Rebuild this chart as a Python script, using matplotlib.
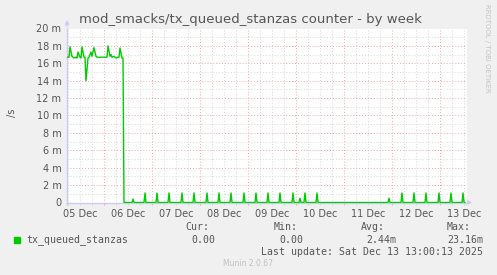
import matplotlib
matplotlib.use("Agg")
import matplotlib.pyplot as plt
from matplotlib.patches import Rectangle

# hours since 05 Dec 00:00, values in milli-stanzas/s
busy_hours = [5.5, 6.5, 7, 8, 9, 10, 10.5, 11, 12, 12.5, 13, 14, 14.5, 15, 16, 16.5,
              17.5, 18, 19, 20, 20.5, 22, 24, 25.5, 26, 27, 27.5, 28, 29, 30, 31,
              31.5, 32, 33, 33.5, 34]
busy_values = [16.7, 16.7, 17.9, 16.8, 16.6, 16.7, 16.6, 17.3, 16.7, 16.6, 17.9, 16.7,
               16.7, 14.0, 16.6, 16.7, 17.3, 16.8, 17.8, 16.8, 16.7, 16.7, 16.7, 16.7,
               18.0, 16.8, 17.0, 16.7, 16.8, 16.6, 16.7, 16.7, 17.75, 16.6, 16.6, 0.0]

spike_hours = [38.5, 44.5, 50.5, 56.5, 63, 69, 75.5, 81.5, 87.5, 94, 100, 106, 112,
               118.5, 122, 124.5, 130.5, 166.5, 173, 179, 185, 191.5, 197.5, 203.5]
spike_values = [0.4, 1.1, 1.1, 1.1, 1.1, 1.1, 1.1, 1.1, 1.1, 1.1, 1.1, 1.1, 1.1,
                1.1, 0.5, 1.1, 1.1, 0.5, 1.1, 1.1, 1.1, 1.1, 1.1, 1.1]
end_hour = 204.5

day_labels = ["05 Dec", "06 Dec", "07 Dec", "08 Dec", "09 Dec",
              "10 Dec", "11 Dec", "12 Dec", "13 Dec"]
y_ticks = [0, 2, 4, 6, 8, 10, 12, 14, 16, 18, 20]

title = "mod_smacks/tx_queued_stanzas counter - by week"
series_name = "tx_queued_stanzas"
cur, vmin, avg, vmax = "0.00", "0.00", "2.44m", "23.16m"
last_update = "Last update: Sat Dec 13 13:00:13 2025"

# build line: busy plateau, then zero with short spikes
xs = list(busy_hours)
ys = list(busy_values)
for h, v in zip(spike_hours, spike_values):
    xs += [h - 0.5, h, h + 0.5]
    ys += [0, v, 0]
xs.append(end_hour)
ys.append(0)

W, H = 497, 275
fig = plt.figure(figsize=(W / 100, H / 100), dpi=100, facecolor="#f0f0f0")
ax = fig.add_axes([67 / W, 1 - 202.5 / H, 400 / W, 174 / H])
ax.set_facecolor("white")

x0, x1 = 5.5, 205.5
ax.set_xlim(x0, x1)
ax.set_ylim(0, 20)

red = "#f0a8a8"
grey = "#d8d8d8"

# grid + small tick marks under the axis
h = 6
while h < x1:
    if h > x0:
        c = red if h % 24 == 0 else grey
        ax.axvline(h, color=c, lw=0.7, ls=(0, (1, 2)), zorder=1)
        ax.vlines(h, -0.3, 0, color=c, lw=0.8, clip_on=False, zorder=2)
    h += 6
for v in range(1, 21):
    c = red if v % 2 == 0 else grey
    ax.axhline(v, color=c, lw=0.7, ls=(0, (1, 2)), zorder=1)

ax.plot(xs, ys, color="#00cc00", lw=1.0, zorder=3)

for s in ax.spines.values():
    s.set_visible(False)
ax.axhline(0, color="#ccccee", lw=1.0, zorder=2, clip_on=False)
ax.vlines(x0, -0.3, 20, color="#ccccee", lw=1.0, zorder=2, clip_on=False)
ax.annotate("", xy=(x0, 21.3), xytext=(x0, 19.9),
            arrowprops=dict(arrowstyle="-|>", color="#ccccee", lw=0.8, mutation_scale=6),
            annotation_clip=False)
ax.annotate("", xy=(x1 + 4, 0), xytext=(x1 - 1, 0),
            arrowprops=dict(arrowstyle="-|>", color="#ccccee", lw=0.8, mutation_scale=6),
            annotation_clip=False)

ax.set_xticks([12 + 24 * i for i in range(len(day_labels))])
ax.set_xticklabels(day_labels)
ax.set_yticks(y_ticks)
ax.set_yticklabels(["0"] + [f"{v} m" for v in y_ticks[1:]])
ax.tick_params(length=0, labelsize=7, colors="#555555", pad=4)
ax.tick_params(axis="x", pad=5)

txt = "#555555"
fig.text(250 / W, 1 - 19 / H, title, ha="center", va="center", fontsize=9.5, color=txt)
fig.text(12 / W, 1 - 113 / H, "/s", rotation=90, ha="center", va="center",
         fontsize=7, color=txt)
fig.text(487 / W, 1 - 4 / H, "RRDTOOL / TOBI OETIKER", rotation=270, ha="center",
         va="top", fontsize=5, color="#c4c4c4")

mono = "DejaVu Sans Mono"
fs = 7.1
fig.patches.append(Rectangle((14 / W, 1 - 243 / H), 6 / W, 6 / H,
                             transform=fig.transFigure, color="#00cc00"))
fig.text(26.5 / W, 1 - 240 / H, series_name, family=mono, fontsize=fs, color=txt, va="center")
for x, lab in [(185.3, "Cur:"), (273.3, "Min:"), (361, "Avg:"), (446.7, "Max:")]:
    fig.text(x / W, 1 - 227.3 / H, lab, family=mono, fontsize=fs, color=txt, va="center")
for x, val in [(191.7, cur), (279.3, vmin), (366.7, avg), (447.7, vmax)]:
    fig.text(x / W, 1 - 240 / H, val, family=mono, fontsize=fs, color=txt, va="center")
fig.text(482.7 / W, 1 - 251.7 / H, last_update, family=mono, fontsize=fs, color=txt,
         va="center", ha="right")
fig.text(247.8 / W, 1 - 263.7 / H, "Munin 2.0.67", fontsize=5.5, color="#c0c0c0",
         ha="center", va="center")

fig.savefig("out.png", dpi=100, facecolor=fig.get_facecolor())
